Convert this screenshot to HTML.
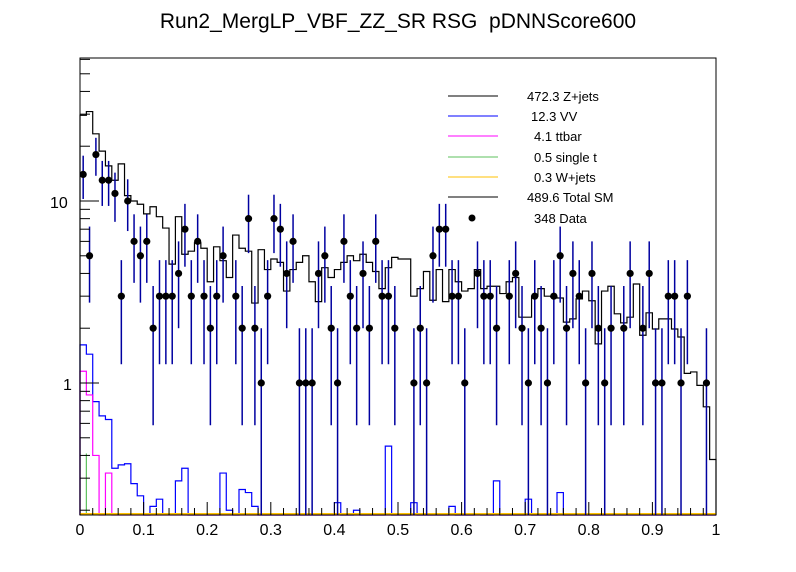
<!DOCTYPE html>
<html><head><meta charset="utf-8"><style>
html,body{margin:0;padding:0;background:#fff;}
svg{display:block;font-family:"Liberation Sans",Arial,sans-serif;}
</style></head><body>
<svg id="s" width="796" height="572" viewBox="0 0 796 572" xmlns="http://www.w3.org/2000/svg">
<rect width="796" height="572" fill="#fff"/>
<text x="398" y="28" font-size="21" text-anchor="middle" fill="#000">Run2_MergLP_VBF_ZZ_SR RSG &#160;pDNNScore600</text>
<g id="g"></g>
<rect x="80" y="58" width="636" height="457" fill="none" stroke="#000" stroke-width="1"/>
<g font-size="13" fill="#000">
<line x1="448" y1="96" x2="498" y2="96" stroke="#000"/>
<line x1="448" y1="116" x2="498" y2="116" stroke="#0000ff"/>
<line x1="448" y1="136" x2="498" y2="136" stroke="#ff00ff"/>
<line x1="448" y1="157" x2="498" y2="157" stroke="#5cc05c"/>
<line x1="448" y1="177" x2="498" y2="177" stroke="#ffc000"/>
<line x1="448" y1="197" x2="498" y2="197" stroke="#000"/>
<circle cx="472" cy="218" r="3.5" fill="#000"/>
<text x="527" y="101">472.3 Z+jets</text>
<text x="531" y="121">12.3 VV</text>
<text x="534" y="141">4.1 ttbar</text>
<text x="534" y="162">0.5 single t</text>
<text x="534" y="182">0.3 W+jets</text>
<text x="527" y="202">489.6 Total SM</text>
<text x="534" y="223">348 Data</text>
</g>
<g font-size="16" fill="#000">
<text x="50" y="208">10</text>
<text x="63" y="390">1</text>
</g>
</svg>
<script>
(function(){
var g=document.getElementById('g');var NS='http://www.w3.org/2000/svg';
function el(t,a){var e=document.createElementNS(NS,t);for(var k in a)e.setAttribute(k,a[k]);g.appendChild(e);return e;}
var X0=80,BW=6.36,YB=515;
function Y(v){if(v<=0)return YB;var y=383-182*Math.log(v)/Math.LN10;return Math.min(YB,Math.max(58,y));}
function step(vals,color,w){var d='';for(var i=0;i<vals.length;i++){var x0=X0+BW*i,x1=x0+BW,y=Y(vals[i]);d+=(i==0?'M'+x0+' '+YB+'L':'L')+x0+' '+y+'L'+x1+' '+y;}d+='L'+(X0+BW*vals.length)+' '+YB;el('path',{d:d,fill:'none',stroke:color,'stroke-width':w||1.2});}
var tot=[29.6,31,23.4,18.8,15.6,13,16,10.7,10,9.6,8.5,9.3,8.2,7.1,4.5,8.2,5.1,5.3,5.9,5.5,3.6,5.6,4.7,3.8,6.5,5.5,5.3,2.75,5.4,4.2,4.8,4.6,3.2,4.2,4.6,5.0,3.6,2.8,4.3,3.8,4.2,4.6,5.0,4.7,5.1,4.6,4.1,3.3,4.3,4.9,4.8,4.8,3.0,3.3,4.1,2.85,4.2,2.8,4.2,3.6,3.2,3.3,4.2,3.3,3.4,3.4,3.1,3.6,3.8,2.3,2.3,3.0,3.3,3.0,2.97,2.93,2.16,2.25,2.9,3.2,2.83,1.64,3.2,3.4,2.4,2.14,2.3,3.5,1.83,2.43,1.98,2.25,2.25,1.98,1.79,1.13,1.15,0.97,0.74,0.38];
var vv=new Array(100).fill(0);
var vvs={0:1.62,1:1.44,2:0.79,3:0.66,4:0.63,5:0.34,6:0.355,7:0.36,8:0.28,9:0.24,11:0.21,12:0.23,13:0.19,14:0.19,15:0.29,16:0.34,22:0.32,23:0.2,25:0.26,26:0.25,27:0.21,40:0.22,43:0.2,48:0.45,52:0.22,58:0.21,62:0.19,65:0.29,70:0.23,75:0.25};
for(var k in vvs)vv[k]=vvs[k];
var tt=new Array(100).fill(0);tt[0]=1.16;tt[1]=0.86;tt[2]=0.40;tt[4]=0.32;
el('line',{x1:X0+BW,y1:Y(0.41),x2:X0+BW,y2:YB,stroke:'#5cc05c','stroke-width':1.2});
step(vv,'#0000ff',1.2);
step(tt,'#ff00ff',1.2);
step(tot,'#000',1.2);
el('line',{x1:80,y1:514,x2:716,y2:514,stroke:'#ffc000','stroke-width':2});
var data={0:14,1:5,2:18,3:13,4:13,5:11,6:3,7:10,8:6,9:5,10:6,11:2,12:3,13:3,14:3,15:4,16:7,17:3,18:6,19:3,20:2,21:3,22:5,24:3,25:2,26:8,27:2,28:1,29:3,30:8,31:7,32:4,33:6,34:1,35:1,36:1,37:4,38:5,39:2,40:1,41:6,42:3,43:2,44:4,45:2,46:6,47:3,48:3,49:2,52:1,53:2,54:1,55:5,56:7,57:7,58:3,59:3,60:1,62:4,63:3,64:3,65:2,67:3,68:4,69:2,70:1,71:3,72:2,73:1,74:3,75:5,76:2,77:4,78:3,79:1,80:4,81:2,82:1,83:2,85:2,86:4,88:2,89:4,90:1,91:1,92:3,93:3,94:1,95:3,98:1};
for(var b in data){var n=data[b],x=X0+BW*(+b+0.5),s=Math.sqrt(n);
el('line',{x1:x,y1:Y(n+s),x2:x,y2:Y(n-s),stroke:'#0000a0','stroke-width':1.5});
el('circle',{cx:x,cy:Y(n),r:3.6,fill:'#000'});}
function yt(v,len){var y=Y(v);el('line',{x1:80,y1:y,x2:80+len,y2:y,stroke:'#000','stroke-width':1});}
[0.2,0.3,0.4,0.5,0.6,0.7,0.8,0.9,2,3,4,5,6,7,8,9,20,30,40,50,60].forEach(function(v){yt(v,10)});
yt(1,19);yt(10,19);
for(var i=0;i<=50;i++){var x=80+i*12.72;var L=(i%5==0)?13:7;el('line',{x1:x,y1:515,x2:x,y2:515-L,stroke:'#000','stroke-width':1});}
var labs=['0','0.1','0.2','0.3','0.4','0.5','0.6','0.7','0.8','0.9','1'];
for(var i=0;i<=10;i++){var t=el('text',{x:80+63.6*i,y:535,'font-size':16,'text-anchor':'middle',fill:'#000'});t.textContent=labs[i];}
})();
</script>
</body></html>
